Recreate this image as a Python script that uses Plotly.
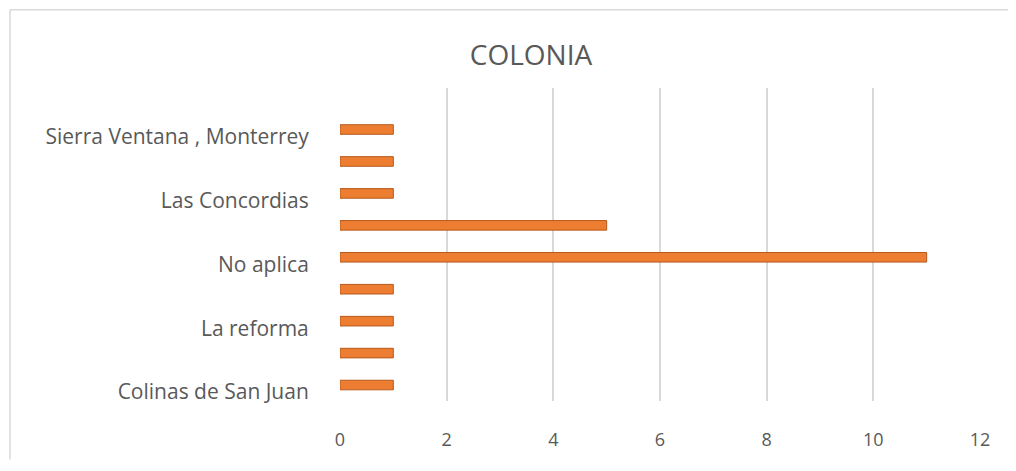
import plotly.graph_objects as go

# Categories bottom-to-top (Excel shows only every other label)
categories = ["Colinas de San Juan", "", "La reforma", "", "No aplica", "",
              "Las Concordias", "", "Sierra Ventana , Monterrey"]
values = [1, 1, 1, 1, 11, 5, 1, 1, 1]
x_ticks = [0, 2, 4, 6, 8, 10, 12]

positions = list(range(len(categories)))
label_pos = [p - 0.22 for p, c in zip(positions, categories) if c]
label_txt = [c for c in categories if c]

fig = go.Figure()
fig.add_trace(go.Bar(
    x=values, y=positions, orientation="h", width=0.3,
    marker=dict(color="#ED7D31", line=dict(color="#B65A1E", width=1)),
    hoverinfo="x",
))

W, H = 1000, 455
L, R, T, B = 332, 28, 80, 59
pw, ph = W - L - R, H - T - B

font_family = "Open Sans, Liberation Sans, sans-serif"
x_left = (2 - L) / pw
y_top = (H - B - 1) / ph
border = dict(color="#D9D9D9", width=1.5)
fig.update_layout(
    width=W, height=H,
    margin=dict(l=L, r=R, t=T, b=B),
    paper_bgcolor="white", plot_bgcolor="white",
    showlegend=False,
    title=dict(text="COLONIA", x=0.523, xanchor="center", y=1 - 47 / H, yanchor="middle",
               font=dict(family=font_family, size=28, color="#595959")),
    font=dict(family=font_family, color="#595959"),
    xaxis=dict(range=[0, 12], tickvals=x_ticks, showgrid=True, gridcolor="#D9D9D9",
               gridwidth=1.5, zeroline=False, showline=False,
               ticks="outside", ticklen=22, tickcolor="rgba(0,0,0,0)",
               tickfont=dict(size=18, color="#595959")),
    yaxis=dict(range=[-0.5, 9.3], tickvals=label_pos, ticktext=label_txt,
               showgrid=False, zeroline=False, showline=False,
               ticks="outside", ticklen=26, tickcolor="rgba(0,0,0,0)",
               tickfont=dict(size=21, color="#595959")),
    shapes=[
        dict(type="line", xref="paper", yref="paper", x0=x_left, x1=(W - L) / pw,
             y0=y_top, y1=y_top, line=border, layer="below"),
        dict(type="line", xref="paper", yref="paper", x0=x_left, x1=x_left,
             y0=-B / ph, y1=y_top, line=border, layer="below"),
    ],
)

fig.write_html("out.html")
